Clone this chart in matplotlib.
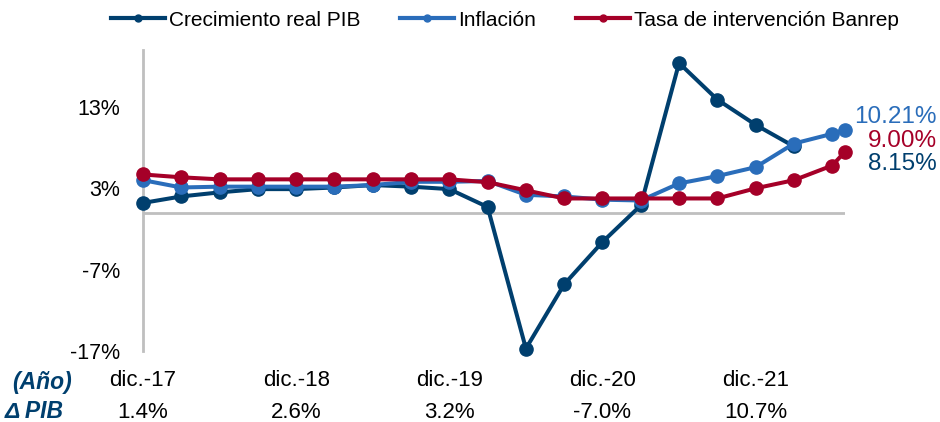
import matplotlib
matplotlib.use("Agg")
import matplotlib.pyplot as plt
from matplotlib.transforms import blended_transform_factory

plt.rcParams['font.family'] = ['Liberation Sans', 'DejaVu Sans']

# trimestres desde dic-17 (0 = dic-17, 1 = mar-18, ...), ultimo punto = jul-22
x_gdp = list(range(18))
x_inf = list(range(19)) + [18 + 1 / 3]
x_rate = x_inf

pib = [1.2, 2.0, 2.5, 2.9, 2.9, 3.1, 3.4, 3.2, 2.9, 0.7,
       -16.7, -8.8, -3.6, 0.9, 18.4, 13.9, 10.8, 8.15]
inflacion = [4.0, 3.1, 3.2, 3.2, 3.2, 3.2, 3.4, 3.8, 3.8, 3.9,
             2.2, 2.0, 1.6, 1.5, 3.6, 4.5, 5.6, 8.5, 9.7, 10.21]
tasa = [4.7, 4.35, 4.1, 4.1, 4.1, 4.1, 4.1, 4.1, 4.1, 3.75,
        2.75, 1.75, 1.75, 1.75, 1.75, 1.75, 3.0, 4.0, 5.8, 7.5]

tick_pos = [0, 4, 8, 12, 16]
tick_labels = ['dic.-17', 'dic.-18', 'dic.-19', 'dic.-20', 'dic.-21']
pib_anual = ['1.4%', '2.6%', '3.2%', '-7.0%', '10.7%']

C_PIB = '#003F6E'
C_INF = '#2A6DBA'
C_TASA = '#A50028'
GRIS = '#BFBFBF'

fig = plt.figure(figsize=(9.4, 4.22), dpi=100)
ax = fig.add_axes([143 / 940, 1 - 351 / 422, (845 - 143) / 940, (351 - 50) / 422])

kw = dict(lw=2.9, marker='o', ms=9.5, clip_on=False, solid_joinstyle='round')
ax.plot(x_gdp, pib, color=C_PIB, zorder=3, **kw)
ax.plot(x_inf, inflacion, color=C_INF, zorder=4, **kw)
ax.plot(x_rate, tasa, color=C_TASA, zorder=5, **kw)

ax.axhline(0, color=GRIS, lw=2, zorder=1)
ax.set_xlim(0, 18 + 1 / 3)
ax.set_ylim(-17, 20)
ax.set_yticks([-17, -7, 3, 13])
ax.set_yticklabels(['-17%', '-7%', '3%', '13%'], fontsize=15.5)
ax.tick_params(axis='y', length=0, pad=16.5)
ax.set_xticks([])
for s in ['top', 'right', 'bottom']:
    ax.spines[s].set_visible(False)
ax.spines['left'].set_color(GRIS)
ax.spines['left'].set_linewidth(2)

tr = blended_transform_factory(ax.transData, ax.transAxes)
for p, lab, v in zip(tick_pos, tick_labels, pib_anual):
    ax.text(p, -30 / 301, lab, transform=tr, ha='center', va='center', fontsize=16)
    ax.text(p, -61 / 301, v, transform=tr, ha='center', va='center', fontsize=16)

fig.text(12 / 940, 1 - 382 / 422, '(Año)', color=C_PIB, fontsize=16.5,
         fontweight='bold', fontstyle='italic', va='center')
fig.text(5 / 940, 1 - 412 / 422, '\u0394 PIB', color=C_PIB, fontsize=16.5,
         fontweight='bold', fontstyle='italic', va='center')

fig.text(937 / 940, 1 - 117 / 422, '10.21%', color=C_INF, fontsize=17.5, ha='right', va='center')
fig.text(937 / 940, 1 - 141 / 422, '9.00%', color=C_TASA, fontsize=17.5, ha='right', va='center')
fig.text(937 / 940, 1 - 164 / 422, '8.15%', color=C_PIB, fontsize=17.5, ha='right', va='center')

handles = [
    plt.Line2D([], [], color=C_PIB, lw=3, marker='o', ms=5),
    plt.Line2D([], [], color=C_INF, lw=3, marker='o', ms=5),
    plt.Line2D([], [], color=C_TASA, lw=3, marker='o', ms=5),
]
fig.legend(handles, ['Crecimiento real PIB', 'Inflación', 'Tasa de intervención Banrep'],
           loc='center', bbox_to_anchor=(505 / 940, 1 - 20 / 422), ncol=3, frameon=False,
           fontsize=15, handlelength=2.6, handletextpad=0.2, columnspacing=1.9,
           borderpad=0, borderaxespad=0)

fig.savefig('out.png', dpi=100)
